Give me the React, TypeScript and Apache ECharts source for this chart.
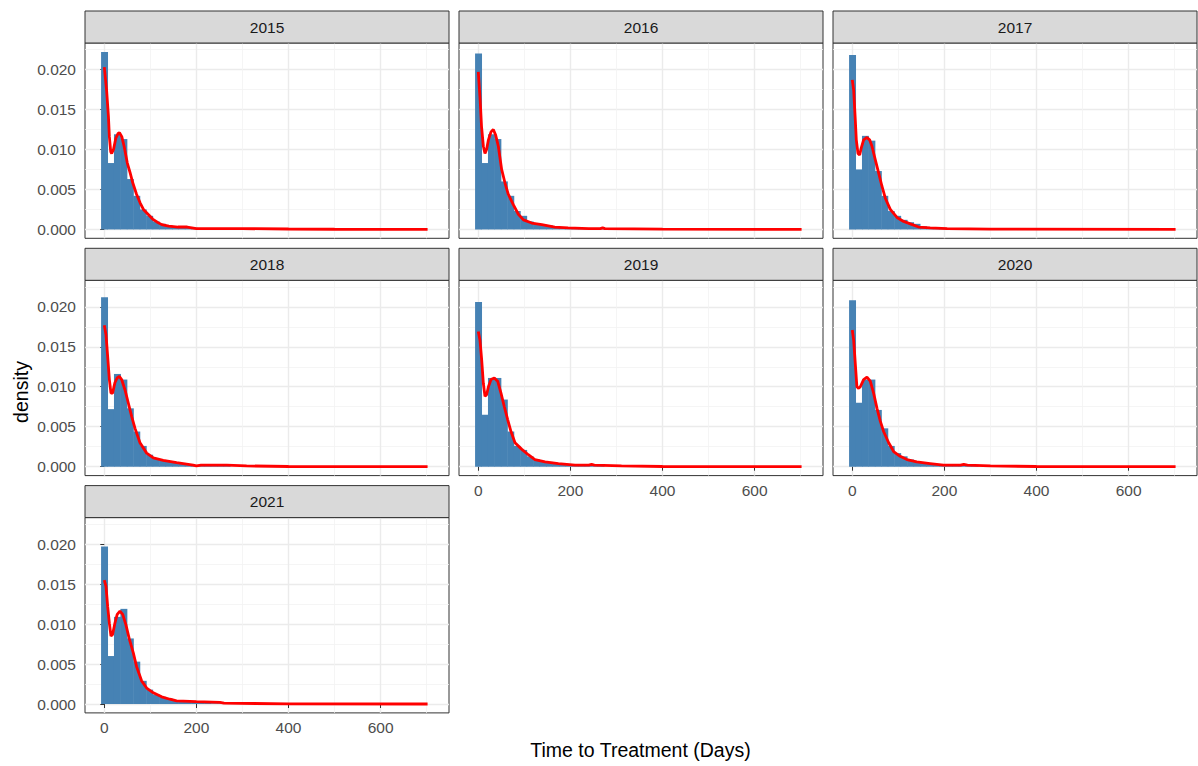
import React, { useEffect, useRef } from "react";
import * as echarts from "echarts";

// Facet years, one panel each
const years = ["2015", "2016", "2017", "2018", "2019", "2020", "2021"];

// Histogram: bins of 14 days centred on 0, 14, 28, ...
const binWidth = 14;
const binCenters = [0, 14, 28, 42, 56, 70, 84, 98, 112, 126, 140, 154, 168, 182, 196, 210, 224, 238, 252, 266];

const hist2015 = [0.0222, 0.0083, 0.0119, 0.0113, 0.0063, 0.0042, 0.0025, 0.0017, 0.0010, 0.0007, 0.0005, 0.0004, 0.0003, 0.0002, 0.0002, 0.0001, 0.0001, 0.0001, 0.0001, 0.0000];
const hist2016 = [0.0220, 0.0083, 0.0119, 0.0113, 0.0060, 0.0042, 0.0023, 0.0017, 0.0010, 0.0008, 0.0006, 0.0005, 0.0004, 0.0003, 0.0002, 0.0002, 0.0001, 0.0001, 0.0001, 0.0001];
const hist2017 = [0.0218, 0.0075, 0.0117, 0.0111, 0.0073, 0.0042, 0.0023, 0.0017, 0.0012, 0.0009, 0.0007, 0.0004, 0.0003, 0.0002, 0.0002, 0.0001, 0.0001, 0.0001, 0.0000, 0.0000];
const hist2018 = [0.0212, 0.0072, 0.0116, 0.0109, 0.0073, 0.0044, 0.0026, 0.0015, 0.0010, 0.0008, 0.0006, 0.0005, 0.0004, 0.0003, 0.0002, 0.0002, 0.0001, 0.0002, 0.0001, 0.0001];
const hist2019 = [0.0206, 0.0065, 0.0111, 0.0111, 0.0084, 0.0044, 0.0026, 0.0021, 0.0013, 0.0009, 0.0007, 0.0006, 0.0004, 0.0004, 0.0003, 0.0002, 0.0002, 0.0001, 0.0002, 0.0001];
const hist2020 = [0.0208, 0.0080, 0.0109, 0.0109, 0.0071, 0.0048, 0.0026, 0.0017, 0.0013, 0.0009, 0.0006, 0.0005, 0.0004, 0.0003, 0.0002, 0.0002, 0.0001, 0.0002, 0.0001, 0.0001];
const hist2021 = [0.0197, 0.0060, 0.0109, 0.0119, 0.0082, 0.0053, 0.0029, 0.0018, 0.0012, 0.0009, 0.0007, 0.0005, 0.0004, 0.0003, 0.0003, 0.0002, 0.0002, 0.0001, 0.0001, 0.0001];

// Kernel density estimate, [days, density]
const dens2015 = [[0, 0.0203], [5, 0.0174], [9, 0.0141], [11, 0.0116], [14, 0.0097], [16, 0.0095], [20, 0.0100], [25, 0.0114], [30, 0.0120], [33, 0.0121], [38, 0.0116], [43, 0.0104], [50, 0.0083], [56, 0.0071], [62, 0.0058], [70, 0.0044], [78, 0.0033], [85, 0.0025], [95, 0.0019], [105, 0.0013], [115, 0.0009], [125, 0.0006], [140, 0.0004], [160, 0.0003], [180, 0.0003], [200, 0.0001], [300, 0.0001], [400, 0.00005], [500, 0.00002], [600, 0.00001], [702, 0]];
const dens2016 = [[0, 0.0197], [4, 0.0162], [7, 0.0129], [11, 0.0104], [14.5, 0.0095], [18, 0.0100], [22, 0.0112], [27.6, 0.0122], [32.6, 0.0125], [37.7, 0.0118], [43.5, 0.0104], [50.7, 0.0075], [58, 0.0058], [65, 0.0044], [76, 0.0031], [87, 0.0019], [98, 0.0012], [116, 0.0008], [138, 0.0006], [166, 0.0003], [195, 0.0002], [240, 0.0001], [265, 0.0001], [270, 0.0002], [275, 0.0001], [400, 0.00003], [702, 0]];
const dens2017 = [[0, 0.0187], [3, 0.0174], [6.5, 0.0137], [8.7, 0.0112], [12.3, 0.0095], [16, 0.0093], [19.5, 0.0102], [24.6, 0.0112], [31.8, 0.0115], [37.6, 0.0112], [42.7, 0.0104], [50, 0.0087], [57, 0.0071], [64.4, 0.0054], [71.7, 0.0039], [82.5, 0.0025], [97, 0.0015], [111.5, 0.0010], [126, 0.0007], [144, 0.0003], [169, 0.0002], [206, 0.0001], [300, 0.00003], [702, 0]];
const dens2018 = [[0, 0.0177], [3.7, 0.0165], [7.3, 0.0138], [11, 0.0109], [14.5, 0.0092], [18, 0.0092], [23, 0.0105], [28, 0.0111], [32.6, 0.0113], [37.7, 0.0109], [45, 0.0096], [52, 0.0080], [59.4, 0.0063], [66.7, 0.0048], [77.5, 0.0030], [92, 0.0017], [106.5, 0.0011], [128, 0.0008], [157, 0.0005], [193, 0.0002], [200, 0.0001], [210, 0.0002], [266, 0.0002], [309, 0.0001], [400, 0.00003], [702, 0]];
const dens2019 = [[0, 0.0169], [3.7, 0.0158], [7.3, 0.0134], [11, 0.0104], [14.5, 0.0088], [18, 0.0090], [22, 0.0100], [27.6, 0.0109], [34.8, 0.0111], [42, 0.0107], [49.3, 0.0092], [56.5, 0.0075], [63.8, 0.0059], [71, 0.0044], [79.7, 0.0030], [94, 0.0022], [108.6, 0.0015], [123, 0.0009], [145, 0.0006], [174, 0.0004], [210, 0.0002], [240, 0.0002], [246, 0.0003], [252, 0.0002], [311, 0.0001], [400, 0.00003], [702, 0]];
const dens2020 = [[0, 0.0171], [3, 0.0158], [6.5, 0.0129], [10, 0.0100], [13.8, 0.0098], [17.4, 0.0100], [24.6, 0.0109], [31.8, 0.0112], [39, 0.0107], [46.3, 0.0092], [53.6, 0.0073], [60.8, 0.0057], [68, 0.0044], [79, 0.0030], [89.8, 0.0019], [104, 0.0013], [118.7, 0.0009], [140, 0.0006], [169, 0.0004], [198, 0.0002], [235, 0.0002], [242, 0.0003], [250, 0.0002], [300, 0.0001], [400, 0.00003], [702, 0]];
const dens2021 = [[0, 0.0155], [3.7, 0.0147], [7.3, 0.0122], [11, 0.0101], [14.5, 0.0085], [18, 0.0087], [23, 0.0101], [28, 0.0112], [34, 0.0116], [40, 0.0112], [47, 0.0099], [54, 0.0082], [63, 0.0064], [70, 0.0047], [81, 0.0029], [92, 0.0020], [106.5, 0.0014], [124.6, 0.0009], [142.6, 0.0006], [157, 0.0004], [200, 0.0003], [251, 0.0002], [260, 0.0001], [400, 0.00003], [702, 0]];

const histograms = [hist2015, hist2016, hist2017, hist2018, hist2019, hist2020, hist2021];
const densities = [dens2015, dens2016, dens2017, dens2018, dens2019, dens2020, dens2021];

// Tick labels
const xTicks = [0, 200, 400, 600];
const yTicks = [0, 0.005, 0.01, 0.015, 0.02];

const FONT = "'Liberation Sans', Arial, sans-serif";
const BAR_FILL = "#4682B4";
const LINE_COLOR = "#FF0000";

// Panel layout (pixels)
const colLefts = [85, 459, 833];
const panelWidth = 364;
const stripTops = [11, 248.3, 485.6];
const stripHeight = 32;
const panelHeight = 195.3;

// Shared axis limits with 5% expansion
const xMin = -41.9;
const xMax = 748.5;
const histMax = Math.max(...histograms.map((h) => Math.max(...h)));
const yMin = -histMax * 0.05;
const yMax = histMax * 1.05;

export default function App() {
  const ref = useRef<HTMLDivElement>(null);

  useEffect(() => {
    if (!ref.current) return;
    const chart = echarts.init(ref.current, undefined, { renderer: "svg" });

    const grids: any[] = [];
    const xAxes: any[] = [];
    const yAxes: any[] = [];
    const series: any[] = [];
    const graphics: any[] = [];

    years.forEach((year, i) => {
      const row = Math.floor(i / 3);
      const col = i % 3;
      const left = colLefts[col];
      const top = stripTops[row] + stripHeight;
      const showX = i >= 4;
      const showY = col === 0;

      grids.push({
        left,
        top,
        width: panelWidth,
        height: panelHeight,
        show: true,
        borderColor: "#333333",
        borderWidth: 1,
        backgroundColor: "transparent",
        containLabel: false,
      });

      xAxes.push({
        type: "value",
        gridIndex: i,
        min: xMin,
        max: xMax,
        splitNumber: 4,
        axisLine: { show: false },
        axisTick: {
          show: showX,
          length: 4,
          customValues: xTicks,
          lineStyle: { color: "#333333", width: 1 },
        },
        axisLabel: {
          show: showX,
          customValues: xTicks,
          margin: 7,
          fontSize: 15.5,
          fontFamily: FONT,
          color: "#4D4D4D",
        },
        splitLine: { show: true, lineStyle: { color: "#EBEBEB", width: 1.4 } },
        minorTick: { show: false, splitNumber: 2 },
        minorSplitLine: { show: true, lineStyle: { color: "#F2F2F2", width: 0.8 } },
      });

      yAxes.push({
        type: "value",
        gridIndex: i,
        min: yMin,
        max: yMax,
        splitNumber: 5,
        axisLine: { show: false },
        axisTick: {
          show: showY,
          length: 4,
          customValues: yTicks,
          lineStyle: { color: "#333333", width: 1 },
        },
        axisLabel: {
          show: showY,
          customValues: yTicks,
          margin: 9,
          fontSize: 15.5,
          fontFamily: FONT,
          color: "#4D4D4D",
          formatter: (v: number) => v.toFixed(3),
        },
        splitLine: { show: true, lineStyle: { color: "#EBEBEB", width: 1.4 } },
        minorTick: { show: false, splitNumber: 2 },
        minorSplitLine: { show: true, lineStyle: { color: "#F2F2F2", width: 0.8 } },
      });

      const bars = binCenters.map((c, k) => [c - binWidth / 2, c + binWidth / 2, histograms[i][k]]);

      series.push({
        type: "custom",
        xAxisIndex: i,
        yAxisIndex: i,
        z: 2,
        silent: true,
        encode: { x: [0, 1], y: 2 },
        data: bars,
        renderItem: (_params: any, api: any) => {
          const x0 = api.value(0);
          const x1 = api.value(1);
          const v = api.value(2);
          const pTop = api.coord([x0, v]);
          const pBase = api.coord([x1, 0]);
          return {
            type: "rect",
            shape: {
              x: pTop[0],
              y: pTop[1],
              width: pBase[0] - pTop[0] + 0.5,
              height: pBase[1] - pTop[1],
            },
            style: { fill: BAR_FILL },
          };
        },
      });

      series.push({
        type: "line",
        xAxisIndex: i,
        yAxisIndex: i,
        z: 3,
        silent: true,
        showSymbol: false,
        symbol: "none",
        data: densities[i],
        lineStyle: { color: LINE_COLOR, width: 2.8 },
      });

      // facet strip
      graphics.push({
        type: "rect",
        shape: { x: left, y: stripTops[row], width: panelWidth, height: stripHeight },
        style: { fill: "#D9D9D9", stroke: "#333333", lineWidth: 1 },
        z: 10,
      });
      graphics.push({
        type: "text",
        x: left + panelWidth / 2,
        y: stripTops[row] + stripHeight / 2,
        style: {
          text: year,
          fontSize: 15.5,
          fontFamily: FONT,
          fill: "#1A1A1A",
          align: "center",
          verticalAlign: "middle",
        },
        z: 11,
      });
    });

    // axis titles
    graphics.push({
      type: "text",
      x: 640.5,
      y: 750,
      style: {
        text: "Time to Treatment (Days)",
        fontSize: 19.5,
        fontFamily: FONT,
        fill: "#000000",
        align: "center",
        verticalAlign: "middle",
      },
    });
    graphics.push({
      type: "text",
      x: 21,
      y: 392,
      rotation: Math.PI / 2,
      style: {
        text: "density",
        fontSize: 19.5,
        fontFamily: FONT,
        fill: "#000000",
        align: "center",
        verticalAlign: "middle",
      },
    });

    chart.setOption({
      animation: false,
      backgroundColor: "#FFFFFF",
      grid: grids,
      xAxis: xAxes,
      yAxis: yAxes,
      series,
      graphic: graphics,
    });

    return () => {
      chart.dispose();
    };
  }, []);

  return (
    <div
      ref={ref}
      style={{ position: "absolute", left: 0, top: 0, width: 1198, height: 766 }}
    />
  );
}
